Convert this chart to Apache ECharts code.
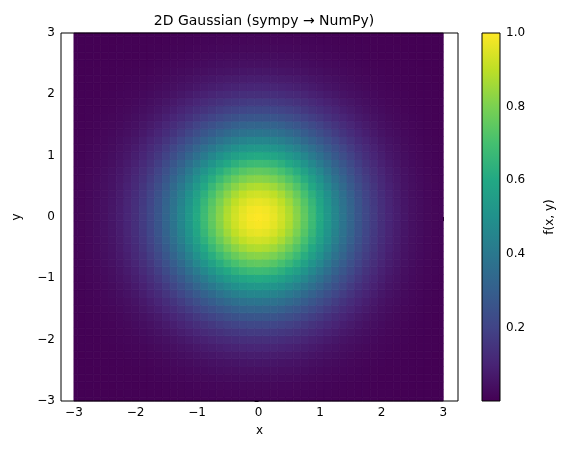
<!DOCTYPE html>
<html>
<head>
<meta charset="utf-8">
<script src="https://cdn.jsdelivr.net/npm/echarts@6/dist/echarts.min.js"></script>
<style>html,body{margin:0;padding:0;background:#fff}#main{width:561px;height:455px}</style>
</head>
<body>
<div id="main"></div>
<script>
// grid coordinates (x and y share the same samples)
const coords = [];
for (let k = -24; k <= 24; k++) coords.push(k / 8);

// profile f(t, 0), t = 0, 0.125, ... 3
const halfProfile = [1, 0.992, 0.969, 0.932, 0.883, 0.823, 0.755, 0.682, 0.607,
    0.531, 0.458, 0.389, 0.325, 0.267, 0.216, 0.172, 0.135, 0.105, 0.0796,
    0.0596, 0.0439, 0.0319, 0.0228, 0.016, 0.0111];
const profile = halfProfile.slice(1).reverse().concat(halfProfile);

const xTicks = [-3, -2, -1, 0, 1, 2, 3];
const cbTicks = [0.2, 0.4, 0.6, 0.8, 1.0];

const viridis = ['#440154', '#482475', '#414487', '#355f8d', '#2a788e', '#21918c',
    '#22a884', '#44bf70', '#7ad151', '#bddf26', '#fde725'];

const cells = [];
coords.forEach((x, i) => {
    coords.forEach((y, j) => {
        cells.push([x, y, profile[i] * profile[j]]);
    });
});
const vMin = Math.min(...cells.map(c => c[2]));

const half = 1 / 16;
const font = 'DejaVu Sans';
let chart = echarts.init(document.getElementById('main'));
let option = {
    animation: false,
    title: {
        text: '2D Gaussian (sympy → NumPy)',
        left: 259, top: 9, textAlign: 'center',
        textStyle: {fontFamily: font, fontSize: 14, fontWeight: 'normal', color: '#000'}
    },
    grid: [
        {left: 61, right: 103, top: 33, bottom: 54, show: true, borderColor: '#000', borderWidth: 1, backgroundColor: 'transparent', z: 5},
        {left: 482, width: 18, top: 33, bottom: 54, show: true, borderColor: '#000', borderWidth: 1, backgroundColor: 'transparent', z: 5}
    ],
    visualMap: {
        show: false, seriesIndex: 0, dimension: 2,
        min: vMin, max: 1, inRange: {color: viridis}
    },
    xAxis: [
        {
            gridIndex: 0, type: 'value', min: -3.21, max: 3.24,
            name: 'x', nameLocation: 'middle', nameGap: 24,
            nameTextStyle: {fontFamily: font, fontSize: 12, color: '#000'},
            axisLine: {show: false}, splitLine: {show: false},
            axisTick: {show: true, inside: false, length: 4, lineStyle: {color: '#000'}, customValues: xTicks},
            axisLabel: {fontFamily: font, fontSize: 12, color: '#000', margin: 6, customValues: xTicks,
                formatter: v => String(v).replace('-', '−')}
        },
        {gridIndex: 1, type: 'value', min: 0, max: 1, show: false}
    ],
    yAxis: [
        {
            gridIndex: 0, type: 'value', min: -3, max: 3, interval: 1,
            name: 'y', nameLocation: 'middle', nameGap: 38,
            nameTextStyle: {fontFamily: font, fontSize: 12, color: '#000'},
            axisLine: {show: false}, splitLine: {show: false},
            axisTick: {show: true, length: 4, lineStyle: {color: '#000'}},
            axisLabel: {fontFamily: font, fontSize: 12, color: '#000', margin: 6,
                formatter: v => String(v).replace('-', '−')}
        },
        {
            gridIndex: 1, type: 'value', min: vMin, max: 1, position: 'right',
            name: 'f(x, y)', nameLocation: 'middle', nameGap: 44, nameRotate: 90,
            nameTextStyle: {fontFamily: font, fontSize: 12, color: '#000'},
            axisLine: {show: false}, splitLine: {show: false},
            axisTick: {show: true, length: 4, lineStyle: {color: '#000'}, customValues: cbTicks},
            axisLabel: {fontFamily: font, fontSize: 12, color: '#000', margin: 6, customValues: cbTicks,
                formatter: v => v.toFixed(1)}
        }
    ],
    series: [
        {
            type: 'custom', xAxisIndex: 0, yAxisIndex: 0, data: cells, silent: true,
            renderItem: (params, api) => {
                const x = api.value(0), y = api.value(1);
                const p0 = api.coord([Math.max(x - half, -3), Math.min(y + half, 3)]);
                const p1 = api.coord([Math.min(x + half, 3), Math.max(y - half, -3)]);
                const c = api.visual('color');
                return {
                    type: 'rect',
                    shape: {x: p0[0], y: p0[1], width: p1[0] - p0[0], height: p1[1] - p0[1]},
                    style: {fill: c, stroke: c, lineWidth: 0.8}
                };
            }
        },
        {
            type: 'custom', xAxisIndex: 1, yAxisIndex: 1, data: [[0, 1]], silent: true,
            renderItem: (params, api) => {
                const p0 = api.coord([0, 1]);
                const p1 = api.coord([1, vMin]);
                return {
                    type: 'rect',
                    shape: {x: p0[0], y: p0[1], width: p1[0] - p0[0], height: p1[1] - p0[1]},
                    style: {
                        fill: new echarts.graphic.LinearGradient(0, 1, 0, 0,
                            viridis.map((c, i) => ({offset: i / (viridis.length - 1), color: c})))
                    }
                };
            }
        }
    ]
};
chart.setOption(option);
</script>
</body>
</html>
